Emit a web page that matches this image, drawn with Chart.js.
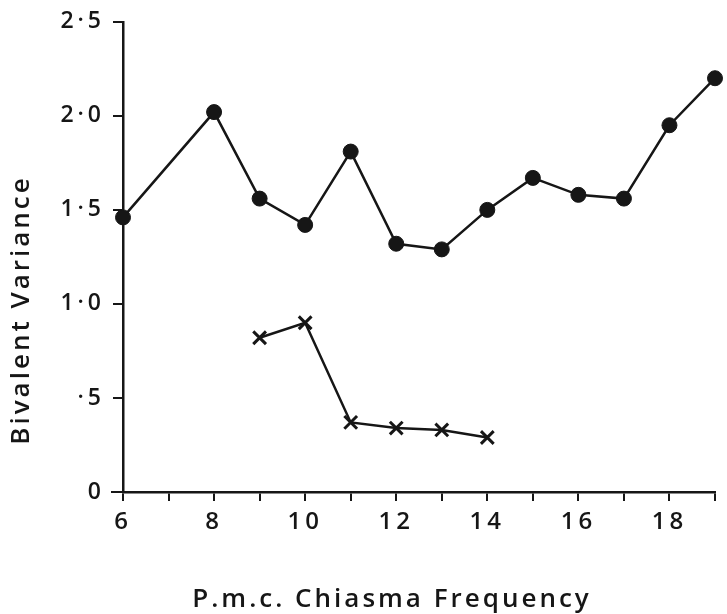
<!DOCTYPE html>
<html>
<head>
<meta charset="utf-8">
<script src="https://cdn.jsdelivr.net/npm/chart.js@4/dist/chart.umd.min.js"></script>
<style>
  html, body { margin: 0; padding: 0; background: #fff; }
  #wrap { width: 727px; height: 614px; position: relative; }
</style>
</head>
<body>
<div id="wrap"><canvas id="c" width="727" height="614"></canvas></div>
<script>
// ---- data ----
const circleX = [6, 8, 9, 10, 11, 12, 13, 14, 15, 16, 17, 18, 19];
const circleValues = [1.46, 2.02, 1.56, 1.42, 1.81, 1.32, 1.29, 1.50, 1.67, 1.58, 1.56, 1.95, 2.20];
const crossX = [9, 10, 11, 12, 13, 14];
const crossValues = [0.82, 0.90, 0.37, 0.34, 0.33, 0.29];
const yTickValues = [0, 0.5, 1, 1.5, 2, 2.5];
const yTickLabels = ['0', '·5', '1·0', '1·5', '2·0', '2·5'];
const xTickValues = [6, 8, 10, 12, 14, 16, 18];
const xTickLabels = ['6', '8', '10', '12', '14', '16', '18'];
const xTitle = 'P.m.c. Chiasma Frequency';
const yTitle = 'Bivalent Variance';

const FONT = "'Open Sans', 'DejaVu Sans', sans-serif";
const INK = '#161616';

const spacingPlugin = {
  id: 'spacing',
  beforeUpdate(chart) { chart.ctx.letterSpacing = '4px'; },
  beforeDraw(chart) { chart.ctx.letterSpacing = '4px'; }
};

const titlePlugin = {
  id: 'titles',
  afterDraw(chart) {
    const ctx = chart.ctx;
    ctx.save();
    ctx.fillStyle = INK;
    ctx.font = '600 26px ' + FONT;
    ctx.letterSpacing = '3px';
    ctx.textAlign = 'center';
    ctx.textBaseline = 'middle';
    ctx.fillText(xTitle, 392, 600);
    ctx.translate(22, 310);
    ctx.rotate(-Math.PI / 2);
    ctx.fillText(yTitle, 0, 0);
    ctx.restore();
  }
};

const axisExtendPlugin = {
  id: 'axisExtend',
  afterDraw(chart) {
    // extend x axis line slightly left of the y axis, as in the reference
    const ctx = chart.ctx;
    const xs = chart.scales.x, ys = chart.scales.y;
    const y0 = ys.getPixelForValue(0);
    const x0 = xs.getPixelForValue(6);
    ctx.save();
    ctx.strokeStyle = INK;
    ctx.lineWidth = 2;
    ctx.beginPath();
    ctx.moveTo(x0 - 12, y0);
    ctx.lineTo(x0, y0);
    ctx.stroke();
    ctx.restore();
  }
};

function toPts(xs, ys) { return xs.map((x, i) => ({ x: x, y: ys[i] })); }

new Chart(document.getElementById('c'), {
  type: 'line',
  data: {
    datasets: [
      {
        data: toPts(circleX, circleValues),
        borderColor: INK,
        backgroundColor: INK,
        borderWidth: 2.5,
        pointStyle: 'circle',
        pointRadius: 7.5,
        pointBorderWidth: 1,
        tension: 0,
        clip: false
      },
      {
        data: toPts(crossX, crossValues),
        borderColor: INK,
        backgroundColor: INK,
        borderWidth: 2.5,
        pointStyle: 'crossRot',
        pointRadius: 9,
        pointBorderWidth: 3,
        tension: 0,
        clip: false
      }
    ]
  },
  options: {
    responsive: false,
    animation: false,
    devicePixelRatio: 1,
    layout: { padding: { top: 20, right: 0, left: 0, bottom: 0 } },
    plugins: { legend: { display: false }, tooltip: { enabled: false } },
    scales: {
      x: {
        type: 'linear',
        min: 6, max: 19,
        afterFit(s) { s.height = 122; },
        afterBuildTicks(s) {
          const t = [];
          for (let v = 6; v <= 19; v++) t.push({ value: v });
          s.ticks = t;
        },
        border: { display: true, color: INK, width: 2.5 },
        grid: { display: true, drawOnChartArea: false, drawTicks: true, tickLength: 9, color: INK, lineWidth: 2 },
        ticks: {
          autoSkip: false,
          maxRotation: 0,
          padding: 7,
          color: INK,
          font: { family: FONT, size: 24, weight: '600' },
          callback(v) { const i = xTickValues.indexOf(v); return i >= 0 ? xTickLabels[i] : ''; }
        },
        title: { display: false }
      },
      y: {
        type: 'linear',
        min: 0, max: 2.5,
        afterFit(s) { s.width = 123; },
        afterBuildTicks(s) { s.ticks = yTickValues.map(v => ({ value: v })); },
        border: { display: true, color: INK, width: 2.5 },
        grid: { display: true, drawOnChartArea: false, drawTicks: true, tickLength: 10, color: INK, lineWidth: 2 },
        ticks: {
          padding: 8,
          color: INK,
          font: { family: FONT, size: 23, weight: '600' },
          callback(v) { const i = yTickValues.indexOf(v); return i >= 0 ? yTickLabels[i] : ''; }
        },
        title: { display: false }
      }
    }
  },
  plugins: [spacingPlugin, titlePlugin, axisExtendPlugin]
});
</script>
</body>
</html>
